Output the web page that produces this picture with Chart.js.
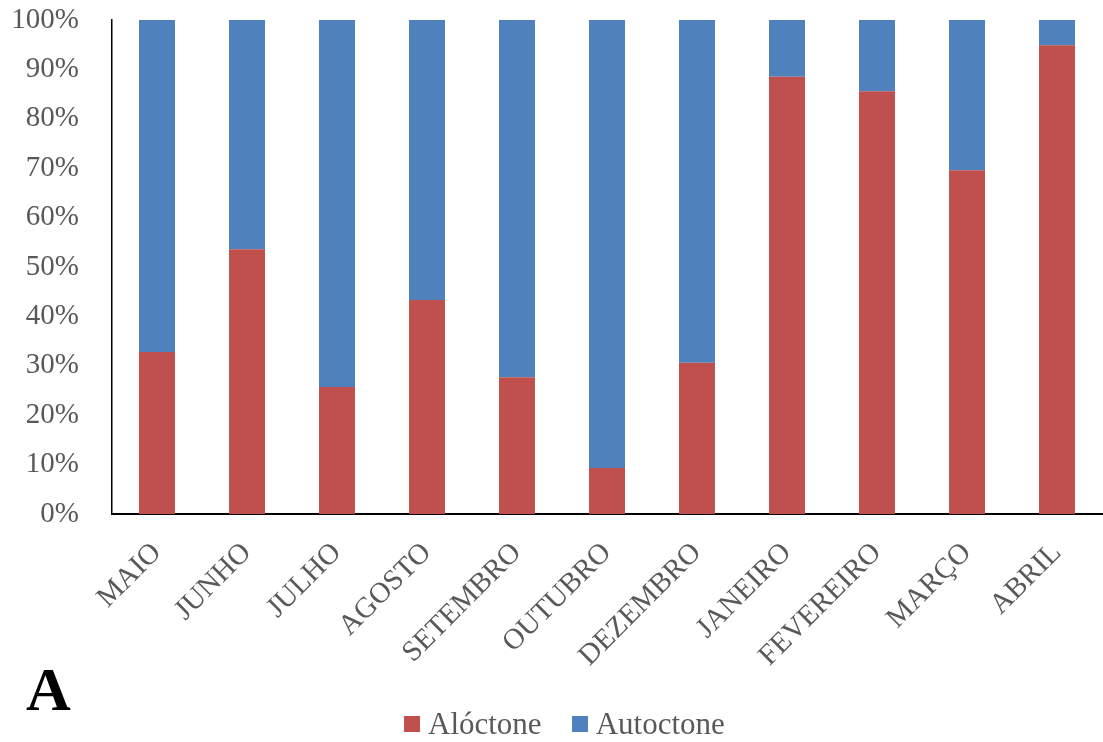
<!DOCTYPE html>
<html>
<head>
<meta charset="utf-8">
<script src="https://cdn.jsdelivr.net/npm/chart.js@4.4.1/dist/chart.umd.min.js"></script>
<style>
  body { margin: 0; background: #fff; }
  #wrap { position: relative; width: 1103px; height: 742px; }
  #tag {
    position: absolute; left: 26px; top: 654px;
    font: bold 62px 'Liberation Serif', 'Times New Roman', serif; color: #000;
  }
  #legend {
    position: absolute; left: 404px; top: 707px; height: 34px;
    display: flex; align-items: center;
    font: 31px 'Liberation Serif', 'Times New Roman', serif; color: #595959;
  }
  #legend span.box { display: inline-block; width: 16px; height: 16px; margin-right: 8px; }
  #legend span.item { display: flex; align-items: center; margin-right: 30px; }
</style>
</head>
<body>
<div id="wrap">
  <canvas id="chart" width="1103" height="742"></canvas>
  <div id="tag">A</div>
  <div id="legend"></div>
</div>
<script>
  // months sampled
  const months = ['MAIO', 'JUNHO', 'JULHO', 'AGOSTO', 'SETEMBRO', 'OUTUBRO', 'DEZEMBRO',
                  'JANEIRO', 'FEVEREIRO', 'MARÇO', 'ABRIL'];
  // share of allochthonous material (%)
  const aloctone = [32.8, 53.6, 25.7, 43.3, 27.7, 9.3, 30.6, 88.5, 85.6, 69.6, 94.9];
  // share of autochthonous material (%)
  const autoctone = aloctone.map(v => +(100 - v).toFixed(1));

  const seriesNames = ['Alóctone', 'Autoctone'];
  const seriesColors = ['#C0504D', '#4F81BD'];

  const serif = "'Liberation Serif', 'Times New Roman', serif";
  const grey = '#595959';

  const chart = new Chart(document.getElementById('chart'), {
    type: 'bar',
    data: {
      labels: months,
      datasets: [
        { label: seriesNames[0], data: aloctone, backgroundColor: seriesColors[0],
          barPercentage: 0.4, categoryPercentage: 1 },
        { label: seriesNames[1], data: autoctone, backgroundColor: seriesColors[1],
          barPercentage: 0.4, categoryPercentage: 1 }
      ]
    },
    options: {
      responsive: false,
      animation: false,
      layout: { padding: { top: 20, right: 1, bottom: 0 } },
      plugins: {
        tooltip: { enabled: false },
        legend: { display: false }
      },
      scales: {
        x: {
          stacked: true,
          grid: { display: false },
          border: { display: true, color: '#000', width: 2 },
          ticks: {
            color: grey,
            font: { family: serif, size: 29 },
            minRotation: 45, maxRotation: 45,
            padding: 14
          },
          afterFit: s => { s.height = 228; }
        },
        y: {
          stacked: true,
          min: 0, max: 100,
          grid: { display: false },
          border: { display: true, color: '#000', width: 1.5 },
          ticks: {
            stepSize: 10,
            color: grey,
            font: { family: serif, size: 29 },
            padding: 25,
            callback: v => v + '%'
          },
          afterFit: s => { s.width = 112; s.paddingTop = 0; s.paddingBottom = 0; }
        }
      }
    }
  });

  // legend built from the datasets
  const legend = document.getElementById('legend');
  chart.data.datasets.forEach(ds => {
    const item = document.createElement('span');
    item.className = 'item';
    const box = document.createElement('span');
    box.className = 'box';
    box.style.background = ds.backgroundColor;
    item.appendChild(box);
    item.appendChild(document.createTextNode(ds.label));
    legend.appendChild(item);
  });
</script>
</body>
</html>
